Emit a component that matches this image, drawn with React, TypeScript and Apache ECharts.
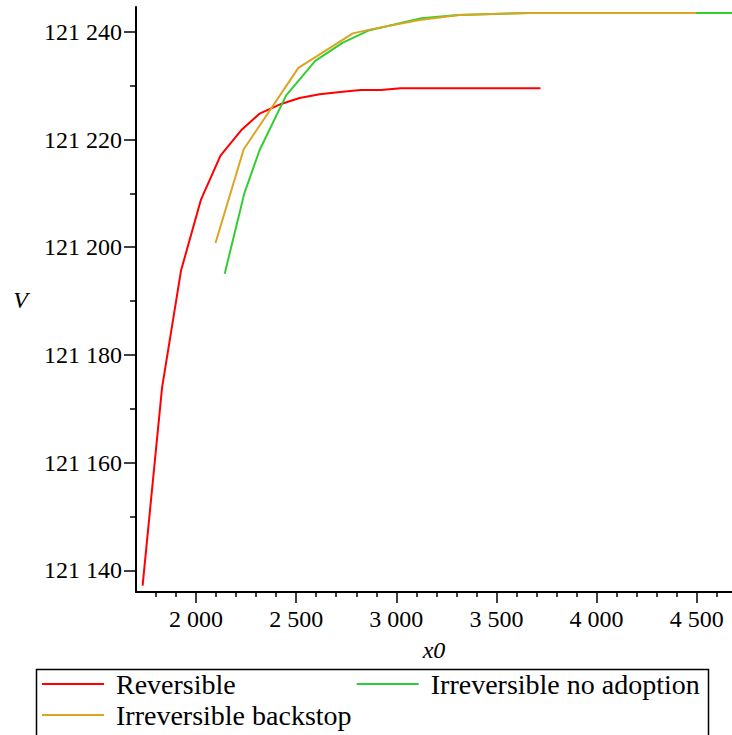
import React, { useEffect, useRef } from "react";
import * as echarts from "echarts";

// Reversible
const revX = [1733, 1830, 1925, 2025, 2122, 2225, 2317, 2425, 2517, 2617, 2720, 2822, 2922, 3022, 3720];
const revY = [121137.2, 121173.9, 121195.7, 121208.9, 121217.0, 121221.7, 121224.8, 121226.6, 121227.7, 121228.4, 121228.8, 121229.2, 121229.2, 121229.5, 121229.5];
// Irreversible no adoption
const noAdX = [2143, 2241, 2317, 2450, 2595, 2733, 2866, 3125, 3308, 3667, 4700];
const noAdY = [121195.1, 121210.0, 121218.0, 121228.2, 121234.6, 121238.0, 121240.3, 121242.5, 121243.1, 121243.5, 121243.5];
// Irreversible backstop
const backX = [2097, 2238, 2511, 2783, 2866, 3116, 3316, 3667, 4497];
const backY = [121200.8, 121218.2, 121233.3, 121239.7, 121240.4, 121242.2, 121243.1, 121243.5, 121243.5];

const seriesNames = ["Reversible", "Irreversible no adoption", "Irreversible backstop"];
const seriesColors = ["#FF0000", "#32CD32", "#DAA520"];

const xMajor = [2000, 2500, 3000, 3500, 4000, 4500];
const xMinor = [1800, 1900, 2100, 2200, 2300, 2400, 2600, 2700, 2800, 2900, 3100, 3200, 3300, 3400, 3600, 3700, 3800, 3900, 4100, 4200, 4300, 4400, 4600];
const yMajor = [121140, 121160, 121180, 121200, 121220, 121240];
const yMinor = [121150, 121170, 121190, 121210, 121230];

const FONT = "Liberation Serif";

const fmt = (v: number) => String(Math.round(v)).replace(/\B(?=(\d{3})+(?!\d))/g, " ");

export default function App() {
  const ref = useRef<HTMLDivElement>(null);
  useEffect(() => {
    if (!ref.current) return;
    const chart = echarts.init(ref.current, undefined, { renderer: "svg" });
    const zip = (xs: number[], ys: number[]) => xs.map((x, i) => [x, ys[i]]);
    const data = [zip(revX, revY), zip(noAdX, noAdY), zip(backX, backY)];
    const axisLineStyle = { color: "#000", width: 2 };
    const xMin = 1700, xMax = 4676.5, yMin = 121136, yMax = 121244.6;
    const legendCommon = {
      padding: 0, itemWidth: 62, itemHeight: 2, itemGap: 121, icon: "rect",
      orient: "horizontal",
      textStyle: { fontFamily: FONT, fontSize: 28, color: "#000", padding: [0, 0, 0, 7] },
    };
    chart.setOption({
      animation: false,
      backgroundColor: "#fff",
      textStyle: { fontFamily: FONT },
      grid: { left: 136, right: 0, top: 7, bottom: 143, containLabel: false },
      xAxis: [
        {
          type: "value", position: "bottom", min: xMin, max: xMax,
          name: "x0", nameLocation: "middle", nameGap: 46,
          nameTextStyle: { fontFamily: FONT, fontStyle: "italic", fontSize: 24, color: "#000" },
          axisLine: { show: true, lineStyle: axisLineStyle },
          axisTick: { show: true, customValues: xMajor, length: 11, lineStyle: { color: "#000", width: 1.5 } },
          axisLabel: { show: true, customValues: xMajor, formatter: fmt, margin: 15, fontFamily: FONT, fontSize: 24, color: "#000" },
          splitLine: { show: false },
        },
        {
          type: "value", position: "bottom", min: xMin, max: xMax,
          axisLine: { show: false },
          axisTick: { show: true, customValues: xMinor, length: 5, lineStyle: { color: "#000", width: 1.5 } },
          axisLabel: { show: false },
          splitLine: { show: false },
        },
      ],
      yAxis: [
        {
          type: "value", position: "left", min: yMin, max: yMax,
          name: "V", nameLocation: "middle", nameGap: 108, nameRotate: 0,
          nameTextStyle: { fontFamily: FONT, fontStyle: "italic", fontSize: 24, color: "#000" },
          axisLine: { show: true, lineStyle: axisLineStyle },
          axisTick: { show: true, customValues: yMajor, length: 12, lineStyle: { color: "#000", width: 1.5 } },
          axisLabel: { show: true, customValues: yMajor, formatter: fmt, margin: 14, fontFamily: FONT, fontSize: 24, color: "#000" },
          splitLine: { show: false },
        },
        {
          type: "value", position: "left", min: yMin, max: yMax,
          axisLine: { show: false },
          axisTick: { show: true, customValues: yMinor, length: 6, lineStyle: { color: "#000", width: 1.5 } },
          axisLabel: { show: false },
          splitLine: { show: false },
        },
      ],
      legend: [
        { ...legendCommon, data: [seriesNames[0], seriesNames[1]], left: 42, top: 670 },
        { ...legendCommon, data: [seriesNames[2]], left: 42, top: 701 },
      ],
      graphic: [
        {
          type: "rect", left: 34, top: 667, silent: true,
          shape: { width: 672, height: 80 },
          style: { fill: "none", stroke: "#000", lineWidth: 1.5 },
        },
      ],
      series: seriesNames.map((name, i) => ({
        name, type: "line", xAxisIndex: 0, yAxisIndex: 0,
        data: data[i], showSymbol: false, symbol: "none",
        lineStyle: { color: seriesColors[i], width: 2 },
        itemStyle: { color: seriesColors[i] },
        clip: true, z: 2 + i,
      })),
    });
    return () => chart.dispose();
  }, []);
  return <div ref={ref} style={{ position: "absolute", left: 0, top: 0, width: 732, height: 735 }} />;
}
